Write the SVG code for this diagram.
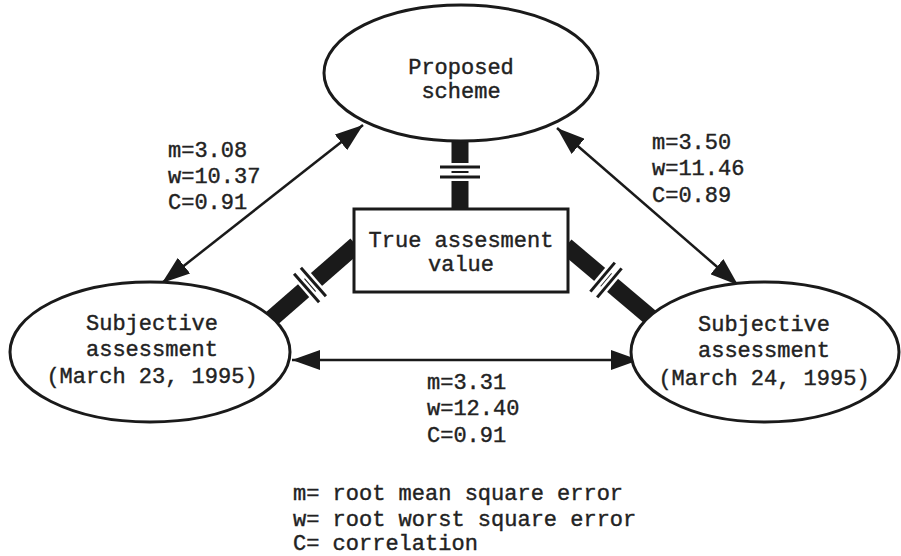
<svg xmlns="http://www.w3.org/2000/svg" width="901" height="556" viewBox="0 0 901 556">
<style>
text{font-family:"Liberation Mono","Courier New",monospace;font-size:22px;fill:#222;stroke:#222;stroke-width:0.4}
.c{text-anchor:middle}
.node{fill:#fff;stroke:#1a1a1a;stroke-width:3}
.thin{stroke:#1a1a1a;stroke-width:2.5;fill:none}
.bar{stroke:#1a1a1a;stroke-width:17;fill:none}
.halo{stroke:#fff;stroke-width:8}
.tick{stroke:#1a1a1a;stroke-width:3}
</style>
<defs>
<marker id="ah" markerUnits="userSpaceOnUse" markerWidth="28" markerHeight="20" refX="28" refY="10" orient="auto-start-reverse" viewBox="0 0 28 20">
<path d="M0,0 L28,10 L0,20 z" fill="#1a1a1a"/>
</marker>
</defs>
<rect width="901" height="556" fill="#fff"/>
<g id="connectors">
<line class="thin" x1="363" y1="125" x2="162" y2="283" marker-start="url(#ah)" marker-end="url(#ah)"/>
<line class="thin" x1="557" y1="128" x2="738" y2="285" marker-start="url(#ah)" marker-end="url(#ah)"/>
<line class="thin" x1="292" y1="360" x2="639" y2="360" marker-start="url(#ah)" marker-end="url(#ah)"/>
<line class="bar" x1="460" y1="130" x2="460" y2="209"/>
<line class="bar" x1="356" y1="245" x2="270" y2="320"/>
<line class="bar" x1="566" y1="246" x2="656" y2="322"/>
<g>
<line class="halo" x1="440" y1="167" x2="480" y2="167"/>
<line class="halo" x1="440" y1="177" x2="480" y2="177"/>
<line class="tick" x1="440" y1="167" x2="480" y2="167"/>
<line class="tick" x1="440" y1="177" x2="480" y2="177"/>
<line class="halo" x1="300.9" y1="267.7" x2="325.9" y2="296.3"/>
<line class="halo" x1="294.1" y1="273.7" x2="319.1" y2="302.3"/>
<line class="tick" x1="300.9" y1="267.7" x2="325.9" y2="296.3"/>
<line class="tick" x1="294.1" y1="273.7" x2="319.1" y2="302.3"/>
<line class="halo" x1="597.2" y1="297.4" x2="621.6" y2="268.4"/>
<line class="halo" x1="590.4" y1="291.6" x2="614.8" y2="262.6"/>
<line class="tick" x1="597.2" y1="297.4" x2="621.6" y2="268.4"/>
<line class="tick" x1="590.4" y1="291.6" x2="614.8" y2="262.6"/>
</g>
<text x="168" y="157">m=3.08</text>
<text x="168" y="183">w=10.37</text>
<text x="168" y="209">C=0.91</text>
<text x="652" y="149">m=3.50</text>
<text x="652" y="175">w=11.46</text>
<text x="652" y="202">C=0.89</text>
<text x="427" y="389">m=3.31</text>
<text x="427" y="415">w=12.40</text>
<text x="427" y="442">C=0.91</text>
</g>
<g id="proposed">
<ellipse class="node" cx="461" cy="73" rx="137" ry="68"/>
<text class="c" x="461" y="74">Proposed</text>
<text class="c" x="461" y="98">scheme</text>
</g>
<g id="true-value">
<rect class="node" x="354" y="209" width="214" height="83"/>
<text class="c" x="461" y="247">True assesment</text>
<text class="c" x="461" y="271">value</text>
</g>
<g id="subj23">
<ellipse class="node" cx="150" cy="352" rx="140" ry="70"/>
<text class="c" x="152" y="330">Subjective</text>
<text class="c" x="152" y="356">assessment</text>
<text class="c" x="152" y="383">(March 23, 1995)</text>
</g>
<g id="subj24">
<ellipse class="node" cx="765" cy="352" rx="134" ry="70"/>
<text class="c" x="764" y="331">Subjective</text>
<text class="c" x="764" y="357">assessment</text>
<text class="c" x="764" y="385">(March 24, 1995)</text>
</g>
<g id="legend">
<text x="293" y="500">m= root mean square error</text>
<text x="293" y="526">w= root worst square error</text>
<text x="293" y="550">C= correlation</text>
</g>
</svg>
